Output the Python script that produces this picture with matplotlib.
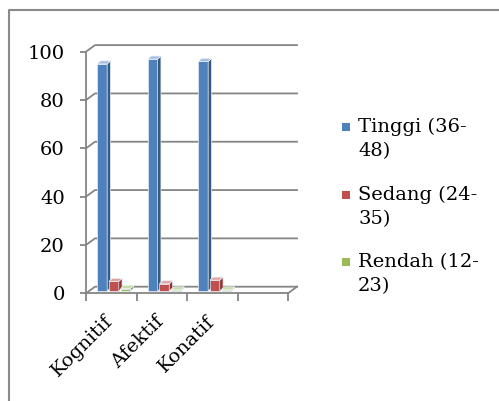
import matplotlib
matplotlib.use("Agg")
import matplotlib.pyplot as plt
from matplotlib.patches import Polygon, Rectangle
from matplotlib.lines import Line2D

categories = ["Kognitif", "Afektif", "Konatif"]
series_names = ["Tinggi (36-48)", "Sedang (24-35)", "Rendah (12-23)"]
tinggi = [94, 96, 95]
sedang = [4, 3, 4.5]
rendah = [1, 0.5, 0.5]
y_ticks = [0, 20, 40, 60, 80, 100]
n_slots = 4  # category axis keeps one empty slot after the last category

series_values = [tinggi, sedang, rendah]
front_c = ["#4F81BD", "#C0504D", "#9BBB59"]
side_c = ["#35597F", "#8E3533", "#6E8C38"]
top_c = ["#A3BEE0", "#E0A3A1", "#CADDA4"]
grid_c = "#858585"

plt.rcParams["font.family"] = ["DejaVu Serif"]

W, H = 499, 401
fig = plt.figure(figsize=(W / 100, H / 100), dpi=100)


def fx(px):
    return px / W


def fy(py):
    return 1 - py / H


ax = fig.add_axes([fx(86), fy(293.3), fx(288) - fx(86), fy(51.7) - fy(293.3)])
ax.set_xlim(0, n_slots)
ax.set_ylim(0, 100)
ax.patch.set_visible(False)
for s in ["top", "right"]:
    ax.spines[s].set_visible(False)
for s in ["left", "bottom"]:
    ax.spines[s].set_color(grid_c)
    ax.spines[s].set_linewidth(1.3)

# wall depth (back wall offset) in data units
WX, WY = 0.178, 2.73
for lvl in y_ticks:
    ax.plot([0, WX, n_slots + WX], [lvl, lvl + WY, lvl + WY],
            color=grid_c, lw=1.3, clip_on=False, zorder=1)
ax.plot([n_slots, n_slots + WX], [0, WY], color=grid_c, lw=1.3,
        clip_on=False, zorder=1)

# bars sit half way into the floor
BX, BY = 0.062, 0.95
BW, STEP, START = 0.195, 0.23, 0.162
DX, DY = 0.065, 1.24

for i in range(len(categories)):
    for j, vals in enumerate(series_values):
        v = vals[i]
        x0 = i + BX + START + j * STEP
        y0 = BY
        ax.add_patch(Rectangle((x0, y0), BW, v, facecolor=front_c[j],
                               edgecolor="#e8eef6", lw=0.5, zorder=3,
                               clip_on=False))
        ax.add_patch(Polygon([(x0 + BW, y0), (x0 + BW + DX, y0 + DY),
                              (x0 + BW + DX, y0 + v + DY), (x0 + BW, y0 + v)],
                             closed=True, facecolor=side_c[j],
                             edgecolor="#e8eef6", lw=0.5, zorder=3,
                             clip_on=False))
        ax.add_patch(Polygon([(x0, y0 + v), (x0 + BW, y0 + v),
                              (x0 + BW + DX, y0 + v + DY),
                              (x0 + DX, y0 + v + DY)],
                             closed=True, facecolor=top_c[j],
                             edgecolor="#e8eef6", lw=0.5, zorder=3,
                             clip_on=False))

ax.set_yticks(y_ticks)
ax.set_yticklabels([str(t) for t in y_ticks])
ax.tick_params(axis="y", length=4.3, width=1.3, color=grid_c, pad=11,
               labelsize=14, labelcolor="black")
ax.set_xticks(range(n_slots + 1))
ax.tick_params(axis="x", length=5.8, width=1.3, color=grid_c,
               labelbottom=False)

for i, c in enumerate(categories):
    ax.text(i + 0.36, -0.078, c, transform=ax.get_xaxis_transform(),
            rotation=45, ha="right", va="top", rotation_mode="anchor",
            fontsize=14, color="black")

# legend
for k, name in enumerate(series_names):
    top_px = 120 + k * 67.5
    fig.add_artist(Rectangle((fx(342), fy(top_px + 11)), 8 / W, 8 / H,
                             transform=fig.transFigure, facecolor=front_c[k],
                             edgecolor="none"))
    fig.text(fx(358), fy(top_px - 2), name.replace("-", "-\n"),
             ha="left", va="top", fontsize=14, linespacing=1.45,
             color="black")

# chart area border
fig.add_artist(Line2D([fx(8.5), fx(8.5), 1.0], [0.0, fy(9.5), fy(9.5)],
                      transform=fig.transFigure, color="#8a8a8a", lw=1.5))

fig.savefig("out.png", dpi=100)
